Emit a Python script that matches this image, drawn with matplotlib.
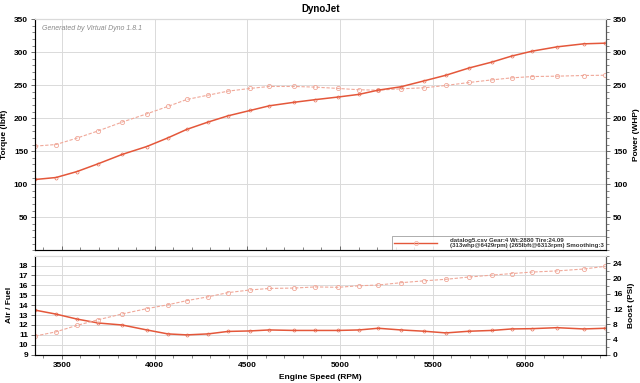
import matplotlib
matplotlib.use("Agg")
import matplotlib.pyplot as plt
from matplotlib.ticker import MultipleLocator
from matplotlib.lines import Line2D

plt.rcParams['font.family'] = ['Liberation Sans', 'DejaVu Sans']

### DATA ###

rpm = [3356, 3468, 3581, 3697, 3825, 3958, 4071, 4174, 4288, 4396, 4515,
       4619, 4752, 4866, 4990, 5102, 5206, 5328, 5454, 5571, 5696, 5820,
       5925, 6036, 6170, 6314, 6430]

torque = [157.6, 160, 169.7, 180.8, 194, 206.5, 217.7, 228.3, 234.8, 240.9, 245,
          248, 248, 247, 245, 243, 242.4, 244.4, 246, 249.5, 254, 258,
          261, 263, 263.6, 264.6, 265]

power = [107, 110, 119, 131, 145, 157, 170, 183, 194, 203.5, 211.6,
         218.7, 224, 228, 232, 236, 242.4, 247.5, 256.5, 265, 276, 285,
         294, 301.5, 308, 312.6, 313.6]

afr = [13.5, 13.1, 12.6, 12.2, 12.0, 11.5, 11.1, 11.0, 11.1, 11.35, 11.4,
       11.5, 11.45, 11.45, 11.45, 11.5, 11.67, 11.5, 11.37, 11.2, 11.37, 11.45,
       11.6, 11.63, 11.73, 11.6, 11.67]

boost = [4.9, 6.0, 7.7, 9.2, 10.7, 12.1, 13.1, 14.2, 15.2, 16.3, 17.0,
         17.4, 17.5, 17.8, 17.7, 18.1, 18.3, 18.9, 19.4, 19.8, 20.4, 20.9,
         21.3, 21.7, 22.0, 22.5, 23.2]

legend_text = ("datalog5.csv Gear:4 Wt:2880 Tire:24.09\n"
               "(313whp@6429rpm) (265lbft@6313rpm) Smoothing:3")

solid_c = '#e4573a'
dash_c = '#f0a899'
grid_c = '#dadada'
spine_c = '#555555'
FS = 6

fig = plt.figure(figsize=(6.4, 3.83), dpi=100)
ax1 = fig.add_axes([0.0547, 0.347, 0.8923, 0.603])
ax2 = fig.add_axes([0.0547, 0.0739, 0.8923, 0.2585])


def style(ax):
    for s in ['left', 'right', 'bottom']:
        ax.spines[s].set_color(spine_c)
        ax.spines[s].set_linewidth(0.8)
    ax.spines['top'].set_color(grid_c)
    ax.grid(True, color=grid_c, linewidth=0.7)
    ax.set_axisbelow(True)
    ax.tick_params(labelsize=FS, length=3, width=0.6, color=spine_c, pad=2)
    ax.tick_params(which='minor', length=2, width=0.5, color=spine_c)
    for lbl in ax.get_xticklabels() + ax.get_yticklabels():
        lbl.set_fontweight('bold')


def style_right(ax):
    ax.tick_params(labelsize=FS, length=3, width=0.6, color=spine_c, pad=2)
    ax.tick_params(which='minor', length=2, width=0.5, color=spine_c)
    for lbl in ax.get_yticklabels():
        lbl.set_fontweight('bold')
    ax.spines['right'].set_color(spine_c)
    ax.spines['top'].set_color(grid_c)


# top panel: torque / power
ax1.plot(rpm, torque, color=dash_c, lw=0.8, ls=(0, (3, 1.5)), marker='o', ms=3,
         mfc='none', mec=dash_c, mew=0.6)
ax1.plot(rpm, power, color=solid_c, lw=1.1, marker='o', ms=2.2,
         mfc='none', mec=solid_c, mew=0.4)
ax1.set_xlim(3355, 6435)
ax1.set_ylim(0, 350)
ax1.set_yticks([50, 100, 150, 200, 250, 300, 350])
ax1.yaxis.set_minor_locator(MultipleLocator(10))
ax1.xaxis.set_major_locator(MultipleLocator(500))
ax1.xaxis.set_minor_locator(MultipleLocator(100))
style(ax1)
ax1.tick_params(axis='x', which='both', labelbottom=False, direction='in')
ax1.set_ylabel("Torque (lbft)", fontsize=FS, fontweight='bold', labelpad=4)
ax1.set_title("DynoJet", fontsize=7, fontweight='bold', pad=5)
ax1.text(0.012, 0.975, "Generated by Virtual Dyno 1.8.1", transform=ax1.transAxes,
         fontsize=5, style='italic', color='#8a8a8a', va='top', ha='left')

ax1r = ax1.twinx()
ax1r.set_ylim(0, 350)
ax1r.set_yticks([50, 100, 150, 200, 250, 300, 350])
ax1r.yaxis.set_minor_locator(MultipleLocator(10))
style_right(ax1r)
ax1r.set_ylabel("Power (WHP)", fontsize=FS, fontweight='bold', labelpad=4)

handle = Line2D([], [], color=solid_c, lw=1.0, marker='o', ms=3, mfc='none',
                mec=dash_c, mew=0.5)
leg = ax1.legend([handle], [legend_text], loc='lower right', fontsize=4.4,
                 frameon=True, fancybox=False, borderaxespad=0, handlelength=7,
                 borderpad=0.3, handletextpad=2.2, labelspacing=0.1,
                 handleheight=0.5)
leg.get_frame().set_edgecolor('#888888')
leg.get_frame().set_linewidth(0.6)
for t in leg.get_texts():
    t.set_fontweight('bold')
    t.set_color('#333333')
    t.set_linespacing(1.1)

# bottom panel: air/fuel and boost
ax2.plot(rpm, afr, color=solid_c, lw=1.1, marker='o', ms=2.2,
         mfc='none', mec=solid_c, mew=0.4)
ax2.set_xlim(3355, 6435)
ax2.set_ylim(9, 19)
ax2.set_yticks(range(9, 19))
ax2.xaxis.set_major_locator(MultipleLocator(500))
ax2.xaxis.set_minor_locator(MultipleLocator(100))
style(ax2)
ax2.set_ylabel("Air / Fuel", fontsize=FS, fontweight='bold', labelpad=4)
ax2.set_xlabel("Engine Speed (RPM)", fontsize=FS, fontweight='bold', labelpad=4)

ax2r = ax2.twinx()
ax2r.plot(rpm, boost, color=dash_c, lw=0.8, ls=(0, (3, 1.5)), marker='o', ms=3,
          mfc='none', mec=dash_c, mew=0.6)
ax2r.set_ylim(0, 26)
ax2r.set_yticks(range(0, 25, 4))
ax2r.yaxis.set_minor_locator(MultipleLocator(2))
style_right(ax2r)
ax2r.set_ylabel("Boost (PSI)", fontsize=FS, fontweight='bold', labelpad=4)

plt.savefig("out.png", dpi=100)
